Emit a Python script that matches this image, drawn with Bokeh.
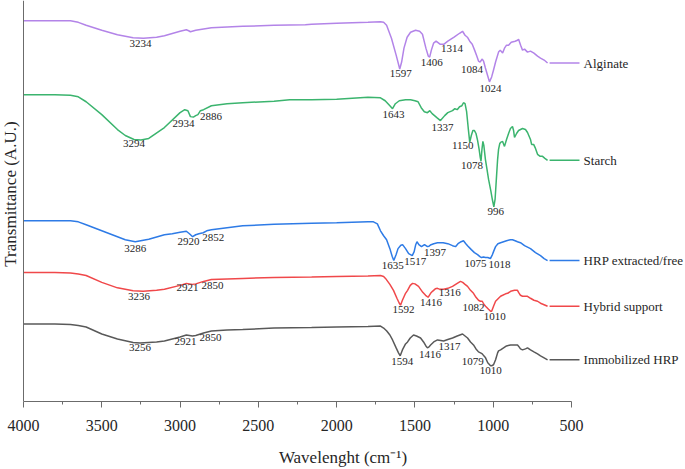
import numpy as np
from bokeh.plotting import figure
from bokeh.models import Range1d, FixedTicker, Span, ColumnDataSource
from bokeh.core.properties import value
from bokeh.embed import file_html
from bokeh.resources import INLINE

# ---------------- data (wavenumber cm-1, transmittance A.U.) ----------------
alg_x = [4000, 3800, 3700, 3650, 3600, 3500, 3400, 3300, 3234, 3150, 3100, 3000, 2960, 2945, 2934, 2900,
         2800, 2600, 2400, 2200, 2160, 2000, 1800, 1720, 1700, 1681, 1650, 1620, 1597, 1585, 1570, 1550,
         1528, 1496, 1470, 1452, 1430, 1415, 1406, 1395, 1381, 1365, 1340, 1314, 1290, 1250, 1215, 1196,
         1180, 1165, 1150, 1134, 1119, 1105, 1094, 1084, 1070, 1062, 1050, 1035, 1024, 1010, 998, 985,
         966, 955, 940, 928, 915, 902, 885, 860, 845, 838, 825, 813, 800, 781, 762, 740, 717, 698, 675, 653]
alg_y = [383.5, 383.5, 383.5, 382, 379, 374, 369.5, 366.5, 366, 367, 368.5, 373, 374.5, 373.5, 372.5, 374,
         376.5, 378, 379, 379.5, 380, 381, 382, 382.5, 382, 379, 366, 349, 335, 342, 356, 367,
         372, 374, 373, 370, 356, 348, 347, 354, 361, 363, 360, 360, 363, 367, 371, 373,
         369, 367, 363, 360, 354, 348, 343, 342, 345, 343, 336, 328, 322, 327, 334, 342,
         352, 354, 351, 356, 359, 359, 362, 363, 364, 365, 359, 354, 355, 352, 353, 351, 348, 346, 344, 341]

sta_x = [4000, 3800, 3700, 3650, 3600, 3500, 3400, 3350, 3294, 3250, 3200, 3100, 3000, 2970, 2950, 2934,
         2915, 2900, 2886, 2870, 2850, 2800, 2700, 2600, 2400, 2300, 2160, 2000, 1800, 1720, 1690, 1660,
         1643, 1625, 1600, 1560, 1528, 1500, 1480, 1460, 1440, 1420, 1405, 1390, 1360, 1337, 1310, 1290,
         1260, 1245, 1230, 1215, 1200, 1190, 1180, 1170, 1160, 1150, 1140, 1130, 1120, 1110, 1100, 1090,
         1083, 1078, 1072, 1066, 1060, 1050, 1040, 1030, 1015, 1005, 996, 988, 980, 972, 966, 958,
         953, 940, 928, 915, 902, 890, 877, 870, 864, 851, 838, 813, 794, 781, 762, 755, 742, 730,
         717, 700, 685, 670, 653]
sta_y = [309, 309, 308.5, 307, 302, 289, 274, 268, 264, 263.5, 265, 276, 291, 294, 293, 287,
         286.5, 288, 289, 293, 294, 298, 300, 301, 302.5, 304, 304, 304.5, 306.5, 306, 303, 298,
         295, 300, 303, 304, 304, 303, 302, 296, 292, 291, 293, 290, 286, 283, 288, 291,
         293, 295, 294, 297, 298, 301, 300, 292, 276, 261, 268, 273, 273, 270, 263, 254,
         246, 242, 254, 262, 258, 244, 234, 224, 212, 203, 196, 204, 224, 244, 254, 260,
         261, 262, 257, 264, 270, 275, 277, 273, 266, 270, 273, 275, 274, 271, 264, 259, 259, 255,
         249, 247, 247, 245, 243]

hrp_x = [4000, 3800, 3700, 3650, 3600, 3500, 3400, 3350, 3286, 3200, 3100, 3050, 3000, 2960, 2940, 2920,
         2900, 2880, 2852, 2830, 2800, 2700, 2600, 2400, 2160, 2000, 1800, 1765, 1740, 1720, 1700, 1681,
         1660, 1645, 1635, 1620, 1608, 1590, 1579, 1560, 1540, 1517, 1505, 1495, 1487, 1475, 1458, 1439,
         1420, 1410, 1397, 1380, 1356, 1320, 1290, 1260, 1241, 1225, 1205, 1190, 1175, 1164, 1140, 1120,
         1100, 1085, 1075, 1062, 1050, 1035, 1018, 1005, 998, 985, 970, 953, 934, 915, 890, 877,
         860, 845, 826, 800, 762, 730, 698, 675, 653]
hrp_y = [182, 182, 182, 181, 178, 172, 166, 163, 161, 163.5, 168, 169, 170.5, 171.5, 169, 166,
         168, 169, 170, 172, 173, 175, 177, 178.5, 179.5, 180, 181, 181, 179, 172, 167, 163,
         154, 146, 142, 148, 154, 157.5, 158, 154, 149, 147, 151, 158, 161, 158, 156, 158,
         156, 156.5, 158, 159, 160, 160, 159, 157, 156, 159, 161, 162, 159, 157, 153, 150,
         148, 146, 145, 145.5, 145, 145, 144, 148, 151, 156, 159, 160, 161, 162, 163, 163,
         162, 161, 160, 157, 154, 150, 147, 144, 142]

hyb_x = [4000, 3800, 3700, 3650, 3600, 3500, 3400, 3300, 3236, 3150, 3100, 3000, 2960, 2940, 2921, 2900,
         2850, 2800, 2700, 2600, 2400, 2160, 2000, 1800, 1720, 1700, 1688, 1660, 1637, 1615, 1600, 1592,
         1580, 1560, 1547, 1530, 1515, 1500, 1477, 1450, 1432, 1416, 1400, 1388, 1370, 1356, 1340, 1316,
         1290, 1260, 1230, 1209, 1195, 1180, 1164, 1145, 1126, 1110, 1094, 1082, 1070, 1060, 1049, 1030,
         1017, 1010, 998, 985, 966, 953, 940, 921, 908, 889, 864, 845, 838, 826, 813, 794,
         781, 762, 740, 717, 698, 675, 653]
hyb_y = [130, 130, 129.5, 128.5, 127, 120, 114.5, 111.5, 111, 112, 113, 117, 119, 118.5, 118, 118.5,
         121, 123, 123.5, 124, 125, 125.5, 126, 126.5, 127, 126, 124, 118, 112, 104, 99, 97,
         102, 109, 112, 117, 119, 118.5, 116, 110, 107, 105, 109, 111, 113.5, 114, 113, 113,
         114, 116, 119, 121, 120, 118, 116, 112, 109, 105, 102, 101, 101, 98, 96, 93,
         91, 91, 96, 101, 104, 106, 107, 108.5, 109, 111, 112, 112, 110, 107, 106, 106,
         106, 104, 102, 101, 99, 97.5, 96]

imm_x = [4000, 3800, 3700, 3650, 3600, 3500, 3400, 3300, 3256, 3150, 3100, 3000, 2960, 2940, 2921, 2900,
         2850, 2800, 2700, 2600, 2400, 2160, 2000, 1800, 1720, 1700, 1680, 1660, 1643, 1620, 1605, 1594,
         1580, 1560, 1547, 1530, 1509, 1490, 1464, 1445, 1430, 1420, 1410, 1400, 1380, 1356, 1335, 1317,
         1290, 1260, 1230, 1196, 1180, 1164, 1145, 1126, 1110, 1094, 1081, 1070, 1060, 1049, 1035, 1017,
         1010, 998, 985, 972, 966, 953, 934, 915, 889, 865, 845, 835, 826, 813, 794, 781,
         762, 740, 717, 698, 675, 653]
imm_y = [78, 78, 77.5, 76.5, 75, 68, 63, 59.5, 59, 60, 61, 65, 67, 66.5, 66, 66.5,
         69, 71, 72, 72.5, 74, 74.5, 75, 75.5, 76, 74, 71, 67, 62, 54, 49, 46,
         52, 58, 60, 64, 67, 66, 64, 60, 56, 54, 55, 57, 60, 62, 61.5, 61,
         62.5, 64, 66, 68, 66, 64, 60, 57, 53, 50, 49, 48, 46, 44, 39, 36,
         36, 37, 42, 49, 51, 52, 54, 56, 57, 57, 57, 55, 53, 52, 53, 54,
         52, 50, 48, 46, 44, 42]

names = ["Alginate", "Starch", "HRP extracted/free", "Hybrid support", "Immobilized HRP"]

alg_peaks = [3234, 1597, 1406, 1314, 1084, 1024]
sta_peaks = [3294, 2934, 2886, 1643, 1337, 1150, 1078, 996]
hrp_peaks = [3286, 2920, 2852, 1635, 1517, 1397, 1075, 1018]
hyb_peaks = [3236, 2921, 2850, 1592, 1416, 1316, 1082, 1010]
imm_peaks = [3256, 2921, 2850, 1594, 1416, 1317, 1079, 1010]

x_ticks = [4000, 3500, 3000, 2500, 2000, 1500, 1000, 500]
x_minor = [3750, 3250, 2750, 2250, 1750, 1250, 750]

# ---------------- styling / layout ----------------
colors = ["#B384E8", "#3BB46E", "#2E7BE6", "#F0484A", "#595959"]
FONT = "Liberation Serif"
TXT = "#262626"
AXC = "#6b6b6b"

# pixel nudges for peak labels (dx right, dy down from the curve)
alg_off = [(-3, 2), (1, 1), (2, 2), (8, 1), (-8, 4), (1, 3)]
sta_off = [(0, 1), (-7, 3), (13, -2), (1, 2), (2, 3), (-7, 0), (-9, 1), (2, 1)]
hrp_off = [(0, 3), (-4, 1), (10, 1), (-1, 1), (3, 2), (4, 4), (-6, 2), (9, 2)]
hyb_off = [(-4, 2), (-5, 0), (9, 1), (3, 1), (3, 2), (6, 0), (-7, 3), (3, 2)]
imm_off = [(0, 1), (-7, 2), (7, 1), (2, 2), (2, 3), (6, 2), (-8, 5), (-1, 1)]

p = figure(width=685, height=469, output_backend="svg", toolbar_location=None,
           x_range=Range1d(4146.9, -228), y_range=Range1d(0, 404),
           y_axis_location=None, min_border_left=0, min_border_right=0,
           min_border_top=0, min_border_bottom=65)
p.outline_line_color = None
p.grid.visible = False
p.background_fill_color = "white"

# left axis line
p.add_layout(Span(location=4000, dimension="height", line_color=AXC, line_width=1))

series = [(alg_x, alg_y, alg_peaks, alg_off), (sta_x, sta_y, sta_peaks, sta_off),
          (hrp_x, hrp_y, hrp_peaks, hrp_off), (hyb_x, hyb_y, hyb_peaks, hyb_off),
          (imm_x, imm_y, imm_peaks, imm_off)]

LEG_X0, LEG_X1, LEG_TX = 640, 449, 423

for (xs, ys, peaks, offs), col, name in zip(series, colors, names):
    p.line(xs, ys, line_color=col, line_width=1.5)
    xa = np.array(xs)[::-1]
    ya = np.array(ys)[::-1]
    py = np.interp(peaks, xa, ya)
    src = ColumnDataSource(dict(x=peaks, y=py, t=[str(v) for v in peaks],
                                xo=[o[0] for o in offs], yo=[o[1] for o in offs]))
    p.text(x="x", y="y", text="t", x_offset="xo", y_offset="yo", source=src,
           text_align="center", text_baseline="top", text_font=value(FONT),
           text_font_size="11px", text_color=TXT)
    # legend entry at the end of the curve
    yend = ys[-1]
    p.segment(x0=[LEG_X0], y0=[yend], x1=[LEG_X1], y1=[yend], line_color=col, line_width=1.5)
    p.text(x=[LEG_TX], y=[yend], text=[name], text_align="left", text_baseline="middle",
           text_font=value(FONT), text_font_size="13px", text_color=TXT)

# y label
p.text(x=[4083], y=[209], text=["Transmittance (A.U.)"], angle=np.pi / 2,
       text_align="center", text_baseline="middle", text_font=value(FONT),
       text_font_size="17px", text_color=TXT)

ax = p.xaxis[0]
ax.bounds = (500, 4000)
ax.ticker = FixedTicker(ticks=x_ticks, minor_ticks=x_minor)
ax.axis_line_color = AXC
ax.major_tick_line_color = AXC
ax.minor_tick_line_color = AXC
ax.major_tick_out = 6
ax.major_tick_in = 0
ax.minor_tick_out = 3
ax.minor_tick_in = 0
ax.major_label_standoff = 12
ax.major_label_text_font = FONT
ax.major_label_text_font_size = "16px"
ax.major_label_text_color = TXT
ax.axis_label = "Wavelenght (cm\u207b\u00b9)"
ax.axis_label_text_font = FONT
ax.axis_label_text_font_size = "17px"
ax.axis_label_text_font_style = "normal"
ax.axis_label_text_color = TXT
ax.axis_label_standoff = 14

open("out.html", "w").write(file_html(p, INLINE))
